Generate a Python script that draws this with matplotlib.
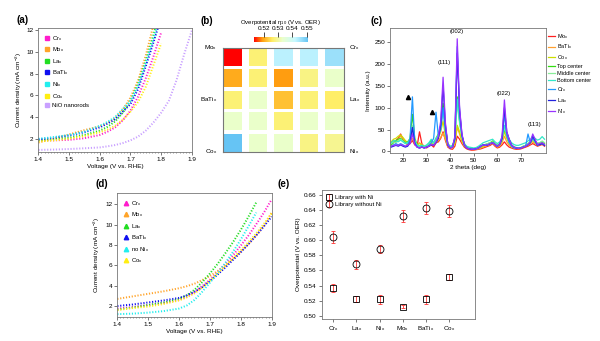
import numpy as np
import matplotlib
matplotlib.use('Agg')
import matplotlib.pyplot as plt
from matplotlib.colors import LinearSegmentedColormap, Normalize
from matplotlib.cm import ScalarMappable
from matplotlib.lines import Line2D

plt.rcParams['font.family'] = ['Liberation Sans', 'DejaVu Sans']
plt.rcParams['mathtext.default'] = 'regular'
plt.rcParams['font.size'] = 4.6

# ---- (a) LSV of the library members ----
v_a = [1.40, 1.45, 1.50, 1.55, 1.60, 1.625, 1.65, 1.675, 1.70, 1.725, 1.75, 1.775, 1.80]
j_cr_a = [1.85, 1.85, 1.9, 2.05, 2.35, 2.65, 3.05, 3.7, 4.6, 5.9, 7.6, 9.6, 11.8]
j_mo_a = [1.65, 2.0, 2.4, 2.8, 3.15, 3.45, 3.9, 4.7, 5.8, 7.4, 9.7, 12.5, 15.0]
j_la_a = [1.85, 1.95, 2.1, 2.35, 2.75, 3.1, 3.6, 4.4, 5.5, 7.1, 9.2, 11.6, 14.0]
j_bati_a = [1.95, 2.1, 2.3, 2.6, 3.05, 3.4, 3.8, 4.5, 5.2, 6.6, 8.7, 10.9, 13.2]
j_ni_a = [2.0, 2.15, 2.35, 2.65, 3.2, 3.55, 4.0, 4.75, 5.5, 6.9, 9.0, 11.2, 13.6]
j_co_a = [1.75, 1.85, 2.0, 2.25, 2.6, 2.85, 3.2, 3.75, 4.5, 5.4, 6.8, 8.8, 10.8]
v_nio = [1.40, 1.45, 1.50, 1.55, 1.60, 1.625, 1.65, 1.675, 1.70, 1.725, 1.75, 1.775,
         1.80, 1.825, 1.85, 1.875, 1.90]
j_nio = [0.97, 1.0, 1.05, 1.12, 1.2, 1.3, 1.42, 1.6, 1.85, 2.2, 2.75, 3.5, 4.4, 5.5, 7.4, 9.8, 12.0]

# ---- (b) heatmap of overpotential ----
heat_vals = [
    [0.513, 0.527, 0.543, 0.543, 0.546],
    [0.520, 0.527, 0.519, 0.528, 0.533],
    [0.527, 0.533, 0.522, 0.527, 0.526],
    [0.533, 0.533, 0.527, 0.533, 0.533],
    [0.551, 0.533, 0.533, 0.528, 0.529],
]

# ---- (c) XRD ----
two_theta = np.arange(15, 81)
xrd_mo = [18, 22, 25, 30, 40, 28, 20, 15, 18, 25,
          15, 12, 45, 18, 10, 8, 12, 15, 10, 20,
          22, 30, 45, 25, 10, 6, 5, 12, 35, 28,
          18, 10, 6, 4, 3, 3, 4, 5, 6, 8,
          10, 12, 14, 18, 12, 8, 10, 15, 22, 15,
          10, 8, 6, 5, 5, 6, 8, 10, 12, 15,
          18, 15, 12, 14, 16, 12]
xrd_bati = [20, 25, 22, 28, 35, 30, 22, 18, 20, 30,
            18, 14, 20, 16, 12, 10, 14, 18, 14, 20,
            25, 32, 42, 28, 12, 8, 8, 18, 55, 40,
            22, 12, 8, 6, 5, 4, 5, 6, 8, 10,
            12, 14, 16, 20, 14, 10, 12, 20, 35, 22,
            14, 10, 8, 7, 6, 8, 10, 12, 14, 18,
            22, 18, 15, 16, 18, 14]
xrd_co = [22, 28, 30, 35, 38, 32, 25, 20, 24, 40,
          22, 16, 18, 15, 12, 12, 16, 20, 16, 22,
          30, 45, 70, 35, 14, 10, 10, 20, 60, 45,
          25, 14, 9, 7, 6, 5, 6, 7, 9, 12,
          14, 16, 18, 22, 16, 12, 14, 25, 45, 30,
          18, 12, 9, 8, 7, 8, 10, 12, 15, 20,
          25, 20, 16, 18, 20, 15]
xrd_top = [15, 20, 25, 28, 30, 25, 20, 22, 30, 85,
           30, 15, 12, 14, 10, 12, 18, 25, 18, 30,
           40, 60, 110, 55, 18, 10, 12, 30, 125, 70,
           35, 18, 10, 8, 7, 6, 7, 9, 12, 15,
           16, 18, 20, 24, 18, 14, 18, 30, 50, 40,
           25, 15, 10, 9, 8, 9, 12, 14, 18, 22,
           30, 24, 18, 20, 22, 18]
xrd_mid = [18, 22, 20, 25, 28, 24, 18, 20, 28, 60,
           25, 14, 12, 12, 10, 12, 16, 22, 18, 28,
           35, 55, 95, 48, 16, 10, 12, 28, 110, 65,
           32, 16, 10, 8, 7, 6, 7, 9, 12, 15,
           16, 18, 20, 22, 18, 14, 18, 28, 55, 38,
           22, 14, 10, 9, 8, 9, 12, 14, 18, 22,
           28, 22, 18, 20, 24, 20]
xrd_bot = [20, 25, 24, 22, 26, 22, 18, 20, 26, 55,
           22, 14, 12, 14, 12, 15, 20, 28, 20, 30,
           38, 58, 100, 52, 18, 12, 14, 30, 120, 70,
           35, 18, 12, 10, 9, 8, 9, 12, 16, 20,
           22, 24, 26, 28, 22, 18, 22, 32, 60, 42,
           28, 20, 16, 14, 14, 16, 18, 20, 24, 28,
           35, 30, 26, 28, 34, 28]
xrd_cr = [12, 15, 18, 15, 18, 15, 12, 14, 30, 125,
          20, 10, 8, 10, 8, 10, 14, 20, 30, 90,
          35, 50, 100, 45, 14, 8, 10, 28, 240, 90,
          35, 14, 8, 6, 5, 5, 6, 8, 12, 15,
          14, 15, 18, 20, 16, 12, 16, 28, 85, 35,
          20, 12, 8, 7, 7, 8, 10, 12, 40, 20,
          30, 22, 14, 16, 18, 14]
xrd_la = [10, 12, 14, 12, 15, 12, 10, 12, 20, 55,
          18, 10, 8, 10, 8, 10, 12, 15, 14, 20,
          30, 60, 150, 60, 15, 8, 10, 30, 225, 95,
          38, 15, 8, 6, 5, 5, 6, 8, 12, 15,
          14, 15, 18, 20, 16, 12, 16, 30, 100, 45,
          28, 15, 10, 8, 7, 8, 10, 12, 15, 20,
          35, 25, 15, 16, 18, 14]
xrd_ni = [12, 14, 15, 14, 16, 14, 12, 14, 18, 40,
          16, 10, 8, 10, 8, 10, 12, 16, 14, 22,
          35, 70, 170, 65, 16, 8, 10, 35, 258, 100,
          40, 16, 8, 6, 5, 5, 6, 8, 12, 15,
          14, 16, 18, 20, 16, 12, 16, 35, 118, 45,
          28, 15, 10, 8, 7, 8, 10, 12, 16, 22,
          40, 28, 16, 18, 20, 16]
peak_labels = ['(111)', '(002)', '(022)', '(113)']
peak_pos = [37.5, 42.9, 62.9, 75.7]
peak_h = [199, 269, 126, 55]
tri_pos = [22.2, 32.5]
tri_h = [124, 91]

# ---- (d) LSV of the library without Ni ----
v_d = [1.40, 1.45, 1.50, 1.55, 1.60, 1.625, 1.65, 1.675, 1.70, 1.725, 1.75, 1.775,
       1.80, 1.825, 1.85, 1.875, 1.90]
nan = np.nan
j_cr_d = [1.75, 1.9, 2.1, 2.3, 2.6, 2.9, 3.35, 3.95, 4.6, 5.35, 6.15, 7.0, 7.95, 8.95, 10.05, 11.2, 12.5]
j_mo_d = [2.7, 2.95, 3.2, 3.45, 3.75, 3.95, 4.2, 4.55, 4.95, 5.45, 6.0, 6.65, 7.35, 8.1, 8.95, 9.9, 11.2]
j_la_d = [1.65, 1.85, 2.1, 2.35, 2.7, 3.05, 3.6, 4.35, 5.2, 6.15, 7.2, 8.3, 9.5, 10.8, 12.2, nan, nan]
j_bati_d = [2.0, 2.15, 2.35, 2.55, 2.8, 3.05, 3.4, 3.85, 4.45, 5.1, 5.8, 6.55, 7.3, 8.1, 8.95, 9.85, 10.8]
j_noni_d = [1.2, 1.25, 1.35, 1.5, 1.75, 2.05, 2.6, 3.4, 4.3, 5.25, 6.25, 7.35, 8.55, 9.85, 11.2, nan, nan]
j_co_d = [1.6, 1.8, 1.95, 2.2, 2.55, 2.85, 3.25, 3.8, 4.5, 5.2, 5.95, 6.7, 7.5, 8.3, 9.15, 10.1, 11.1]

# ---- (e) overpotentials ----
elements = ['Cr$_x$', 'La$_x$', 'Ni$_x$', 'Mo$_x$', 'BaTi$_x$', 'Co$_x$']
eta_with = [0.537, 0.522, 0.522, 0.512, 0.522, 0.552]
err_with = [0.005, 0.004, 0.006, 0.002, 0.006, 0.004]
eta_without = [0.604, 0.568, 0.588, 0.632, 0.642, 0.639]
err_without = [0.0075, 0.006, 0.005, 0.008, 0.008, 0.008]

c_cr, c_mo, c_la, c_bati = '#ff1ccc', '#ffa42a', '#22dd22', '#1010f0'
c_ni, c_co, c_nio = '#22eeee', '#ffee11', '#c9a0ff'
spine_c = '#777777'


def style(ax):
    for s in ax.spines.values():
        s.set_color(spine_c)
        s.set_linewidth(0.6)
    ax.tick_params(direction='out', length=2, width=0.5, pad=1.5, labelsize=4.6, color='#444444')


fig = plt.figure(figsize=(6, 3.41), dpi=100)

# (a)
ax = fig.add_axes([0.064, 0.555, 0.2557, 0.362])
style(ax)
series_a = [('Cr$_x$', j_cr_a, c_cr), ('Mo$_x$', j_mo_a, c_mo), ('La$_x$', j_la_a, c_la),
            ('BaTi$_x$', j_bati_a, c_bati), ('Ni$_x$', j_ni_a, c_ni), ('Co$_x$', j_co_a, c_co)]
handles = []
for name, j, c in series_a:
    ax.plot(v_a, j, ls=(0, (0.6, 0.9)), lw=1.4, color=c)
    handles.append(Line2D([], [], ls='none', marker='s', ms=3, color=c, label=name))
ax.plot(v_nio, j_nio, ls=(0, (0.6, 0.9)), lw=1.4, color=c_nio)
handles.append(Line2D([], [], ls='none', marker='s', ms=3, color=c_nio, label='NiO nanorods'))
ax.set_xlim(1.4, 1.9)
ax.set_ylim(0.8, 12.2)
ax.set_xticks([1.4, 1.5, 1.6, 1.7, 1.8, 1.9])
ax.set_xticks(np.arange(1.4, 1.9, 0.01), minor=True)
ax.tick_params(which='minor', length=1, width=0.4, color='#444444')
ax.set_yticks([2, 4, 6, 8, 10, 12])
ax.set_xlabel('Voltage (V vs. RHE)', labelpad=1.5)
ax.set_ylabel('Current density (mA cm$^{-2}$)', labelpad=2)
ax.legend(handles=handles, loc='upper left', frameon=False, fontsize=4.3,
          handletextpad=0.4, labelspacing=0.45, borderaxespad=0.5, handlelength=1)

# (b)
cmap = LinearSegmentedColormap.from_list('eta', [
    (0.0, '#ff0000'), (0.16, '#ffa010'), (0.34, '#ffee66'),
    (0.53, '#eaffcc'), (0.76, '#c8f8ff'), (1.0, '#66c4f4')])
norm = Normalize(vmin=0.513, vmax=0.551)
ax = fig.add_axes([0.372, 0.555, 0.201, 0.305])
cell_w, cell_h = 0.74, 0.83
vals = np.array(heat_vals)
for r in range(vals.shape[0]):
    ax.bar(np.arange(vals.shape[1]), cell_h, bottom=r - cell_h / 2, width=cell_w,
           color=cmap(norm(vals[r])), linewidth=0)
ax.set_xlim(-cell_w / 2, vals.shape[1] - 1 + cell_w / 2)
ax.set_ylim(vals.shape[0] - 1 + cell_h / 2, -cell_h / 2)
ax.set_xticks([])
ax.set_yticks([])
for s in ax.spines.values():
    s.set_color(spine_c)
    s.set_linewidth(0.8)
corner = [('Mo$_x$', -0.05, 1.0, 'right'), ('BaTi$_x$', -0.05, 0.5, 'right'),
          ('Co$_x$', -0.05, 0.0, 'right'), ('Cr$_x$', 1.04, 1.0, 'left'),
          ('La$_x$', 1.04, 0.5, 'left'), ('Ni$_x$', 1.04, 0.0, 'left')]
for t, x, y, ha in corner:
    ax.text(x, y, t, transform=ax.transAxes, ha=ha, va='center', fontsize=4.6)
cax = fig.add_axes([0.423, 0.878, 0.0905, 0.0138])
cb = fig.colorbar(ScalarMappable(norm=norm, cmap=cmap), cax=cax, orientation='horizontal',
                  ticks=[0.52, 0.53, 0.54, 0.55])
cb.outline.set_visible(False)
cax.xaxis.set_ticks_position('top')
cax.tick_params(length=3.5, width=0.5, pad=1, labelsize=4.6)
fig.text(0.4675, 0.935, 'Overpotential $\\eta_{10}$ (V vs. OER)', ha='center', va='center', fontsize=4.3)

# (c)
ax = fig.add_axes([0.65, 0.552, 0.2595, 0.365])
style(ax)
series_c = [('Mo$_x$', xrd_mo, '#ff2020'), ('BaTi$_x$', xrd_bati, '#ffa030'),
            ('Co$_x$', xrd_co, '#ccdd00'), ('Top center', xrd_top, '#33dd11'),
            ('Middle center', xrd_mid, '#88ee99'), ('Bottom center', xrd_bot, '#33e8c8'),
            ('Cr$_x$', xrd_cr, '#2299ff'), ('La$_x$', xrd_la, '#2222dd'),
            ('Ni$_x$', xrd_ni, '#9933ff')]
for name, y, c in series_c:
    ax.plot(two_theta, y, color=c, lw=0.9, label=name)
for t, x, h in zip(peak_labels, peak_pos, peak_h):
    ax.text(x, h, t, ha='center', va='bottom', fontsize=4.3)
ax.plot(tri_pos, tri_h, ls='none', marker='^', ms=3, color='black')
ax.set_xlim(14.5, 80.5)
ax.set_ylim(-3, 282)
ax.set_xticks([20, 30, 40, 50, 60, 70])
ax.set_yticks([0, 50, 100, 150, 200, 250])
ax.set_xlabel('2 theta (deg)', labelpad=1.5)
ax.set_ylabel('Intensity (a.u.)', labelpad=2)
ax.legend(loc='upper left', bbox_to_anchor=(0.995, 1.0), frameon=False, fontsize=4.0,
          handlelength=1.2, handletextpad=0.4, labelspacing=0.35, borderaxespad=0.2)

# (d)
ax = fig.add_axes([0.1955, 0.0713, 0.2573, 0.362])
style(ax)
series_d = [('Cr$_x$', j_cr_d, c_cr), ('Mo$_x$', j_mo_d, c_mo), ('La$_x$', j_la_d, c_la),
            ('BaTi$_x$', j_bati_d, c_bati), ('no Ni$_x$', j_noni_d, c_ni), ('Co$_x$', j_co_d, c_co)]
handles = []
for name, j, c in series_d:
    ax.plot(v_d, j, ls=(0, (0.6, 0.9)), lw=1.4, color=c)
    handles.append(Line2D([], [], ls='none', marker='^', ms=3.2, color=c, label=name))
ax.set_xlim(1.4, 1.9)
ax.set_ylim(0.95, 13.1)
ax.set_xticks([1.4, 1.5, 1.6, 1.7, 1.8, 1.9])
ax.set_xticks(np.arange(1.4, 1.9, 0.01), minor=True)
ax.tick_params(which='minor', length=1, width=0.4, color='#444444')
ax.set_yticks([2, 4, 6, 8, 10, 12])
ax.set_xlabel('Voltage (V vs. RHE)', labelpad=1.5)
ax.set_ylabel('Current density (mA cm$^{-2}$)', labelpad=2)
ax.legend(handles=handles, loc='upper left', frameon=False, fontsize=4.3,
          handletextpad=0.4, labelspacing=0.45, borderaxespad=0.5, handlelength=1)

# (e)
ax = fig.add_axes([0.536, 0.0645, 0.2555, 0.378])
style(ax)
xpos = np.arange(len(elements))
ax.errorbar(xpos, eta_with, yerr=err_with, ls='none', marker='s', ms=4.5, mfc='none',
            mec='black', mew=0.6, ecolor='#ff3333', elinewidth=0.6, capsize=1.2, capthick=0.6,
            label='Library with Ni')
ax.errorbar(xpos, eta_without, yerr=err_without, ls='none', marker='o', ms=5, mfc='none',
            mec='black', mew=0.6, ecolor='#ff3333', elinewidth=0.6, capsize=1.2, capthick=0.6,
            label='Library without Ni')
ax.set_xlim(-0.5, 6.1)
ax.set_ylim(0.496, 0.666)
ax.set_xticks(xpos)
ax.set_xticklabels(elements)
ax.set_yticks(np.round(np.arange(0.50, 0.661, 0.02), 2))
ax.yaxis.set_major_formatter(matplotlib.ticker.FormatStrFormatter('%.2f'))
ax.set_ylabel('Overpotential (V vs. OER)', labelpad=2)
ax.legend(loc='upper left', frameon=False, fontsize=4.3, handletextpad=0.5,
          labelspacing=0.3, borderaxespad=0.4, handlelength=1)

for t, x, y in [('(a)', 0.0375, 0.94), ('(b)', 0.344, 0.938), ('(c)', 0.628, 0.938),
                ('(d)', 0.17, 0.459), ('(e)', 0.473, 0.459)]:
    fig.text(x, y, t, ha='center', va='center', fontsize=7, fontweight='bold')

fig.savefig('out.png', dpi=100)
